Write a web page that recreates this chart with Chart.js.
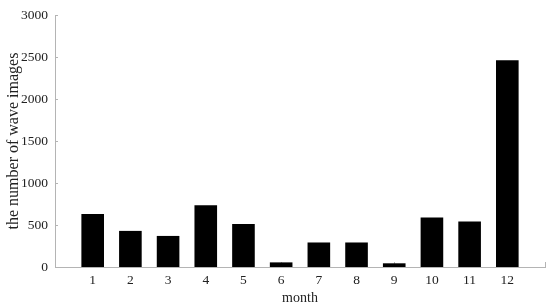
<!DOCTYPE html>
<html>
<head>
<meta charset="utf-8">
<script src="https://cdn.jsdelivr.net/npm/chart.js@4/dist/chart.umd.min.js"></script>
<style>
  html, body { margin: 0; padding: 0; background: #fff; }
  #wrap { width: 550px; height: 308px; }
</style>
</head>
<body>
<div id="wrap"><canvas id="c" width="550" height="308"></canvas></div>
<script>
const categories = [1, 2, 3, 4, 5, 6, 7, 8, 9, 10, 11, 12];
const waveImages = [630, 430, 370, 735, 512, 55, 292, 292, 44, 590, 542, 2462];
const yTicks = [0, 500, 1000, 1500, 2000, 2500, 3000];
const xTitle = 'month';
const yTitle = 'the number of wave images';

const serif = "'Liberation Serif', 'Times New Roman', serif";
const axisGray = '#b4b4b4';

// inward tick marks, placed through the chart's own scales
const inwardTicks = {
  id: 'inwardTicks',
  beforeDatasetsDraw(chart) {
    const { ctx, chartArea, scales } = chart;
    ctx.save();
    ctx.strokeStyle = axisGray;
    ctx.lineWidth = 1;
    ctx.beginPath();
    scales.y.ticks.forEach(t => {
      const y = Math.round(scales.y.getPixelForValue(t.value)) + 0.5;
      ctx.moveTo(chartArea.left, y);
      ctx.lineTo(chartArea.left + 3, y);
    });
    scales.x.ticks.forEach(t => {
      if (t.value === 0) return;
      const x = Math.round(scales.x.getPixelForValue(t.value)) + 0.5;
      ctx.moveTo(x, chartArea.bottom);
      ctx.lineTo(x, chartArea.bottom - 5);
    });
    ctx.stroke();
    ctx.restore();
  }
};

new Chart(document.getElementById('c'), {
  type: 'bar',
  data: {
    datasets: [{
      data: categories.map((m, i) => ({ x: m, y: waveImages[i] })),
      backgroundColor: '#000',
      borderWidth: 0,
      barPercentage: 0.6,
      categoryPercentage: 1.0
    }]
  },
  plugins: [inwardTicks],
  options: {
    responsive: false,
    animation: false,
    devicePixelRatio: 1,
    layout: { padding: { top: 14, right: 4, bottom: 0, left: 0 } },
    plugins: { legend: { display: false }, tooltip: { enabled: false } },
    scales: {
      x: {
        type: 'linear',
        offset: false,
        min: 0,
        max: categories.length + 1,
        afterFit: s => { s.height = 41; },
        afterBuildTicks: s => {
          const t = [0].concat(categories).concat([categories.length + 1]);
          s.ticks = t.map(v => ({ value: v }));
        },
        ticks: {
          autoSkip: false,
          maxRotation: 0,
          padding: 5,
          color: '#222',
          font: { family: serif, size: 13.5 },
          callback: v => categories.includes(v) ? String(v) : ''
        },
        grid: { display: false, drawTicks: false },
        border: { display: true, color: axisGray, width: 1 },
        title: {
          display: true,
          text: xTitle,
          color: '#222',
          font: { family: serif, size: 14 },
          padding: { top: 0, bottom: 1 }
        }
      },
      y: {
        min: 0,
        max: 3000,
        afterFit: s => { s.width = 55; },
        afterBuildTicks: s => { s.ticks = yTicks.map(v => ({ value: v })); },
        ticks: {
          padding: 7,
          color: '#222',
          font: { family: serif, size: 13.5 },
          callback: v => String(v)
        },
        grid: { display: false, drawTicks: false },
        border: { display: true, color: axisGray, width: 1 },
        title: {
          display: true,
          text: yTitle,
          color: '#222',
          font: { family: serif, size: 16 },
          padding: { top: 4, bottom: 0 }
        }
      }
    }
  }
});
</script>
</body>
</html>
